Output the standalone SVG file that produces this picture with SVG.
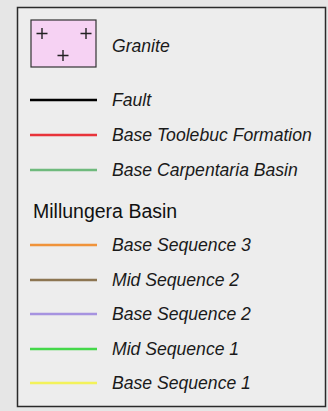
<svg xmlns="http://www.w3.org/2000/svg" width="328" height="411" viewBox="0 0 328 411">
<style>
.lbl{font-family:"Liberation Sans",Arial,sans-serif;font-size:17.6px;font-style:italic;fill:#1a1a1a}
.hdr{font-family:"Liberation Sans",Arial,sans-serif;font-size:19.5px;fill:#111}
.ln{stroke-width:2.5;fill:none}
.plus{stroke:#222;stroke-width:1.4}
</style>
<rect width="328" height="411" fill="#e6e6e6"/>
<g id="frame"><rect x="17.5" y="7.5" width="308" height="399" fill="#ededed" stroke="#2a2a2a" stroke-width="1.5"/></g>
<g id="granite">
<rect x="31" y="20" width="65" height="47" fill="#f6d2f3" stroke="#333" stroke-width="1.2"/>
<path class="plus" d="M36.5 33.5h11M42 28v11M80.5 33.5h11M86 28v11M57.5 55.5h11M63 50v11"/>
<text class="lbl" x="112" y="52">Granite</text>
</g>
<g id="connectors">
<line class="ln" x1="30" y1="100" x2="97" y2="100" stroke="#000" stroke-width="3"/>
<line class="ln" x1="30" y1="135" x2="97" y2="135" stroke="#e8333a"/>
<line class="ln" x1="30" y1="170" x2="97" y2="170" stroke="#6fba7d"/>
<line class="ln" x1="30" y1="245" x2="97" y2="245" stroke="#f0933a"/>
<line class="ln" x1="30" y1="280" x2="97" y2="280" stroke="#8c7551"/>
<line class="ln" x1="30" y1="314" x2="97" y2="314" stroke="#a693e0"/>
<line class="ln" x1="30" y1="349" x2="97" y2="349" stroke="#44d84a"/>
<line class="ln" x1="30" y1="383" x2="97" y2="383" stroke="#f3f25a"/>
</g>
<g id="labels">
<text class="lbl" x="112" y="106">Fault</text>
<text class="lbl" x="112" y="141">Base Toolebuc Formation</text>
<text class="lbl" x="112" y="176">Base Carpentaria Basin</text>
<text class="hdr" x="33" y="218">Millungera Basin</text>
<text class="lbl" x="112" y="251">Base Sequence 3</text>
<text class="lbl" x="112" y="286">Mid Sequence 2</text>
<text class="lbl" x="112" y="320">Base Sequence 2</text>
<text class="lbl" x="112" y="355">Mid Sequence 1</text>
<text class="lbl" x="112" y="389">Base Sequence 1</text>
</g>
</svg>
